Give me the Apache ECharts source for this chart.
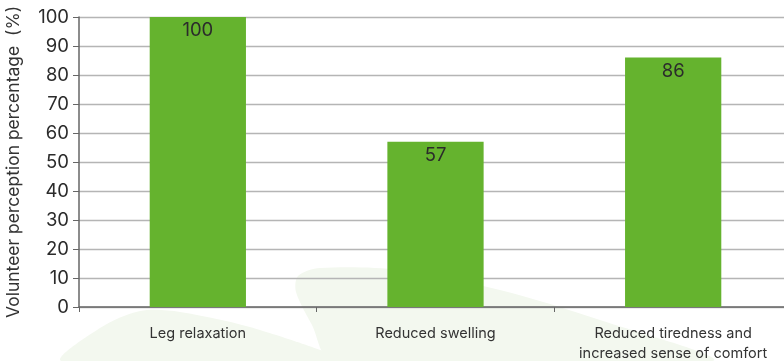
<!DOCTYPE html>
<html><head><meta charset="utf-8">
<script src="https://cdn.jsdelivr.net/npm/echarts@6/dist/echarts.min.js"></script>
<style>html,body{margin:0;padding:0;background:#fff}#c{width:784px;height:361px}</style>
</head><body><div id="c"></div>
<script>
const categories = ['Leg relaxation', 'Reduced swelling', 'Reduced tiredness and\nincreased sense of comfort'];
const values = [100, 57, 86];
const yTicks = [0, 10, 20, 30, 40, 50, 60, 70, 80, 90, 100];

const chart = echarts.init(document.getElementById('c'), null, {renderer: 'canvas'});
chart.setOption({
  animation: false,
  backgroundColor: '#ffffff',
  graphic: [
    {type: 'polygon', z: -10, silent: true,
     shape: {points: [[332, 361], [312, 325], [296, 292], [298, 276], [320, 268], [400, 270], [500, 290], [600, 320], [712, 361]], smooth: 0.3},
     style: {fill: '#f3f8ef'}},
    {type: 'polygon', z: -10, silent: true,
     shape: {points: [[62, 361], [100, 328], [140, 311], [180, 312], [260, 330], [338, 361]], smooth: 0.3},
     style: {fill: '#f3f8ef'}}
  ],
  grid: {left: 79, right: -8, top: 17, bottom: 54, outerBoundsMode: 'none'},
  xAxis: {
    type: 'category', data: categories,
    axisLine: {lineStyle: {color: '#666666', width: 1.5}},
    axisTick: {show: true, interval: 0, length: 5, lineStyle: {color: '#666666'}},
    axisLabel: {interval: 0, hideOverlap: false, color: '#333333', fontSize: 14.5, fontFamily: 'Inter', margin: 17, lineHeight: 20}
  },
  yAxis: {
    type: 'value', min: yTicks[0], max: yTicks[yTicks.length - 1], interval: 10,
    name: 'Volunteer perception percentage  (%)', nameLocation: 'middle', nameGap: 56,
    nameTextStyle: {color: '#333333', fontSize: 17.5, fontFamily: 'Inter'},
    axisLine: {show: true, lineStyle: {color: '#666666', width: 1.5}},
    axisTick: {show: true, length: 6, lineStyle: {color: '#666666'}},
    axisLabel: {color: '#2b2b2b', fontSize: 18.5, fontFamily: 'Inter', margin: 10},
    splitLine: {lineStyle: {color: '#b5b5b5', width: 1.3}}
  },
  series: [{
    type: 'bar', data: values, barWidth: '40.5%',
    itemStyle: {color: '#65b32e'},
    label: {show: true, position: 'insideTop', distance: 4, color: '#2b2b2b', fontSize: 18.5, fontFamily: 'Inter'}
  }]
});
</script></body></html>
